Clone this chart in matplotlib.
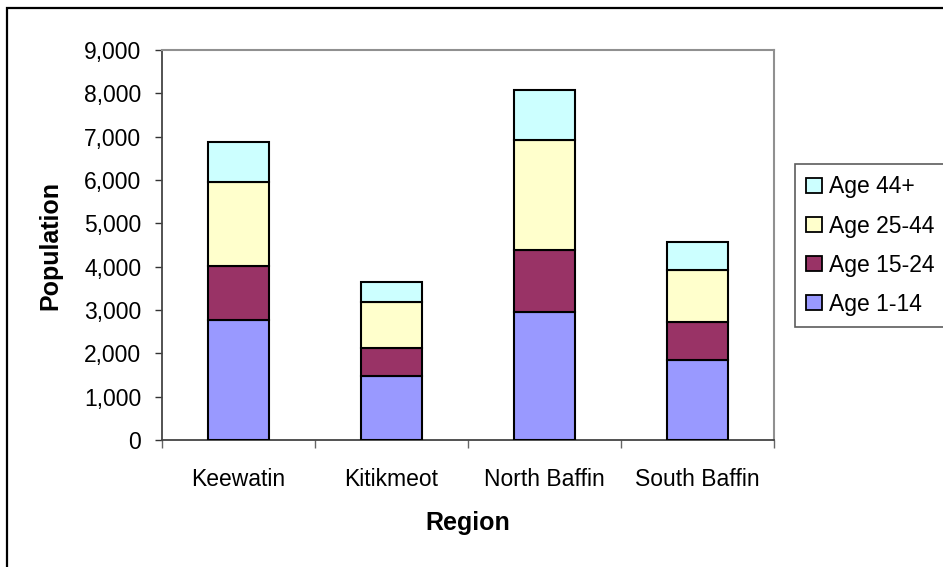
import matplotlib
matplotlib.use("Agg")
import matplotlib.pyplot as plt
from matplotlib.patches import Rectangle
import numpy as np

regions = ["Keewatin", "Kitikmeot", "North Baffin", "South Baffin"]
age_1_14 = [2770, 1470, 2950, 1840]
age_15_24 = [1250, 650, 1430, 880]
age_25_44 = [1930, 1060, 2540, 1200]
age_44_plus = [930, 470, 1160, 640]
series_names = ["Age 1-14", "Age 15-24", "Age 25-44", "Age 44+"]
series_colors = ["#9999FF", "#993366", "#FFFFCC", "#CCFFFF"]
yticks = [0, 1000, 2000, 3000, 4000, 5000, 6000, 7000, 8000, 9000]

plt.rcParams['font.family'] = ['Liberation Sans', 'DejaVu Sans']

W, H = 943, 567
fig = plt.figure(figsize=(W / 100, H / 100), dpi=100)
ax = fig.add_axes([162 / W, 1 - 440 / H, (774 - 162) / W, (440 - 50) / H])

# figure outer border
fig.patches.append(Rectangle((7.5 / W, -0.1), 1.2, 1 - 8 / H + 0.1, transform=fig.transFigure,
                             fill=False, edgecolor='black', linewidth=1.6, zorder=0))

x = np.arange(len(regions))
data = [age_1_14, age_15_24, age_25_44, age_44_plus]
bottom = np.zeros(len(regions))
handles = []
for vals, name, col in zip(data, series_names, series_colors):
    b = ax.bar(x, vals, width=0.405, bottom=bottom, color=col, edgecolor='black',
               linewidth=1.5, label=name, zorder=3)
    handles.append(b)
    bottom += np.array(vals)

ax.set_xlim(-0.5, len(regions) - 0.5)
ax.set_ylim(0, 9000)
ax.set_yticks(yticks)
ax.set_yticklabels([f"{v:,}" for v in yticks], fontsize=16.5)
ax.tick_params(axis='y', direction='out', length=5, width=1, color='#333333', pad=10)

ax.set_xticks(x)
ax.set_xticklabels(regions, fontsize=16.5)
ax.set_xticks(np.arange(-0.5, len(regions), 1.0), minor=True)
ax.tick_params(axis='x', which='major', length=0, pad=20)
ax.tick_params(axis='x', which='minor', direction='out', length=6, width=1, color='#666666')

for s in ['left', 'bottom']:
    ax.spines[s].set_color('#444444')
    ax.spines[s].set_linewidth(1.3)
for s in ['top', 'right']:
    ax.spines[s].set_color('#909090')
    ax.spines[s].set_linewidth(1.5)

ax.set_xlabel("Region", fontsize=18, fontweight='bold')
ax.xaxis.set_label_coords(0.5, -0.183)
ax.set_ylabel("Population", fontsize=18, fontweight='bold')
ax.yaxis.set_label_coords(-0.163, 0.5)

leg = fig.legend(handles[::-1], series_names[::-1], loc='upper left',
                 bbox_to_anchor=(795 / W, 1 - 164 / H), bbox_transform=fig.transFigure,
                 fontsize=16.5, frameon=True, fancybox=False, borderaxespad=0,
                 handlelength=0.68, handleheight=0.68, handletextpad=0.3,
                 labelspacing=0.7, borderpad=0.5)
leg.get_frame().set_edgecolor('#333333')
leg.get_frame().set_linewidth(1.2)
for p in leg.get_patches():
    p.set_linewidth(1.3)

fig.savefig("out.png", dpi=100)
